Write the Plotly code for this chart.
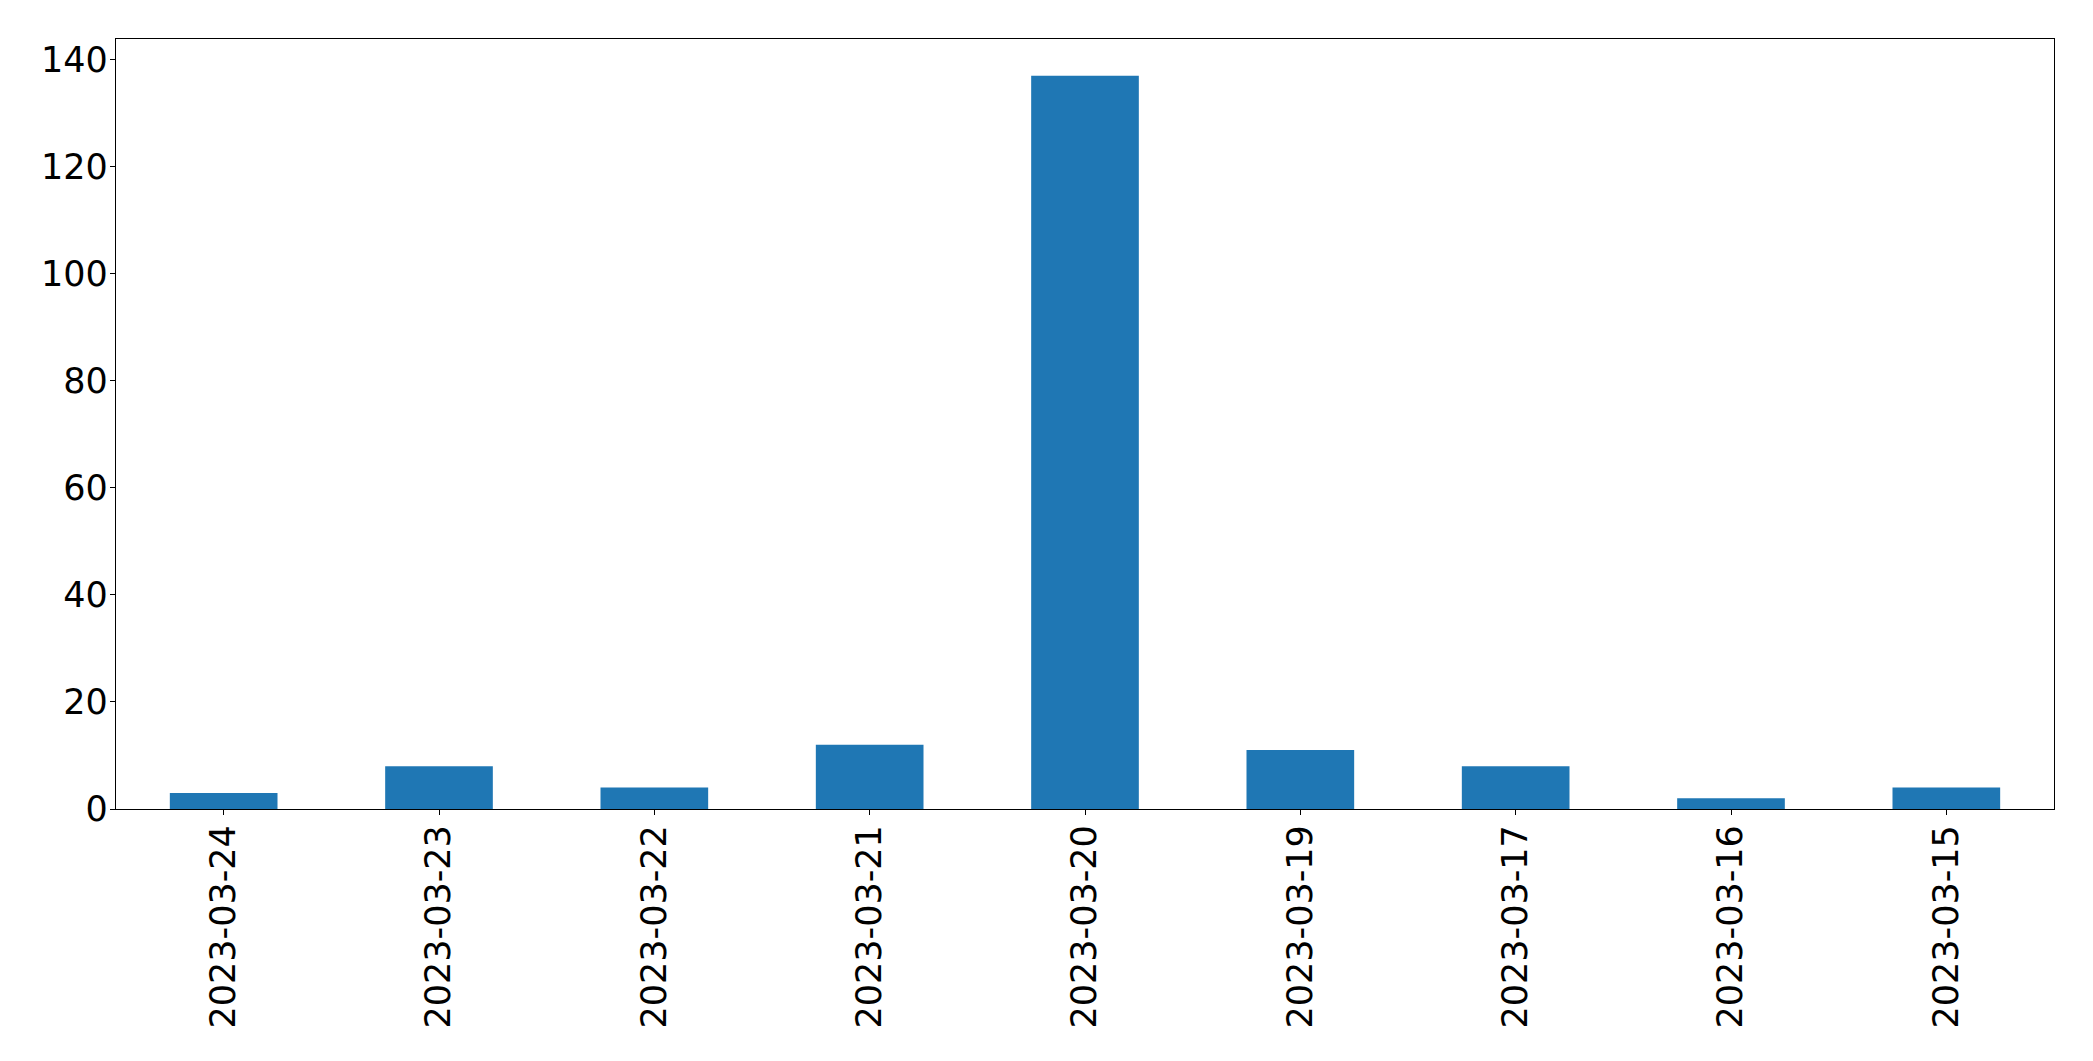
import plotly.graph_objects as go

dates = ["2023-03-24", "2023-03-23", "2023-03-22", "2023-03-21", "2023-03-20",
         "2023-03-19", "2023-03-17", "2023-03-16", "2023-03-15"]
counts = [3, 8, 4, 12, 137, 11, 8, 2, 4]
y_ticks = [0, 20, 40, 60, 80, 100, 120, 140]

fig = go.Figure(go.Bar(x=dates, y=counts, width=0.5, marker_color="#1f77b4",
                       marker_line_width=0))

axis_common = dict(showline=True, linecolor="black", linewidth=1.3, mirror=True,
                   ticks="outside", ticklen=5, tickwidth=1.3, tickcolor="black",
                   showgrid=False, zeroline=False,
                   tickfont=dict(family="DejaVu Sans", size=35, color="black"))

# page body has an 8px default margin; compensate so the plot area lands where it should
fig.update_layout(
    width=2085, height=1053,
    margin=dict(l=108, r=39, t=31, b=252),
    paper_bgcolor="white", plot_bgcolor="white",
    showlegend=False,
    xaxis=dict(type="category", range=[-0.5, 8.5], tickangle=-90,
               ticklabelstandoff=-4, **axis_common),
    yaxis=dict(range=[0, 143.85], tickvals=y_ticks,
               ticktext=[str(v) for v in y_ticks], ticklabelstandoff=-5,
               **axis_common),
)

fig.write_html("out.html")
